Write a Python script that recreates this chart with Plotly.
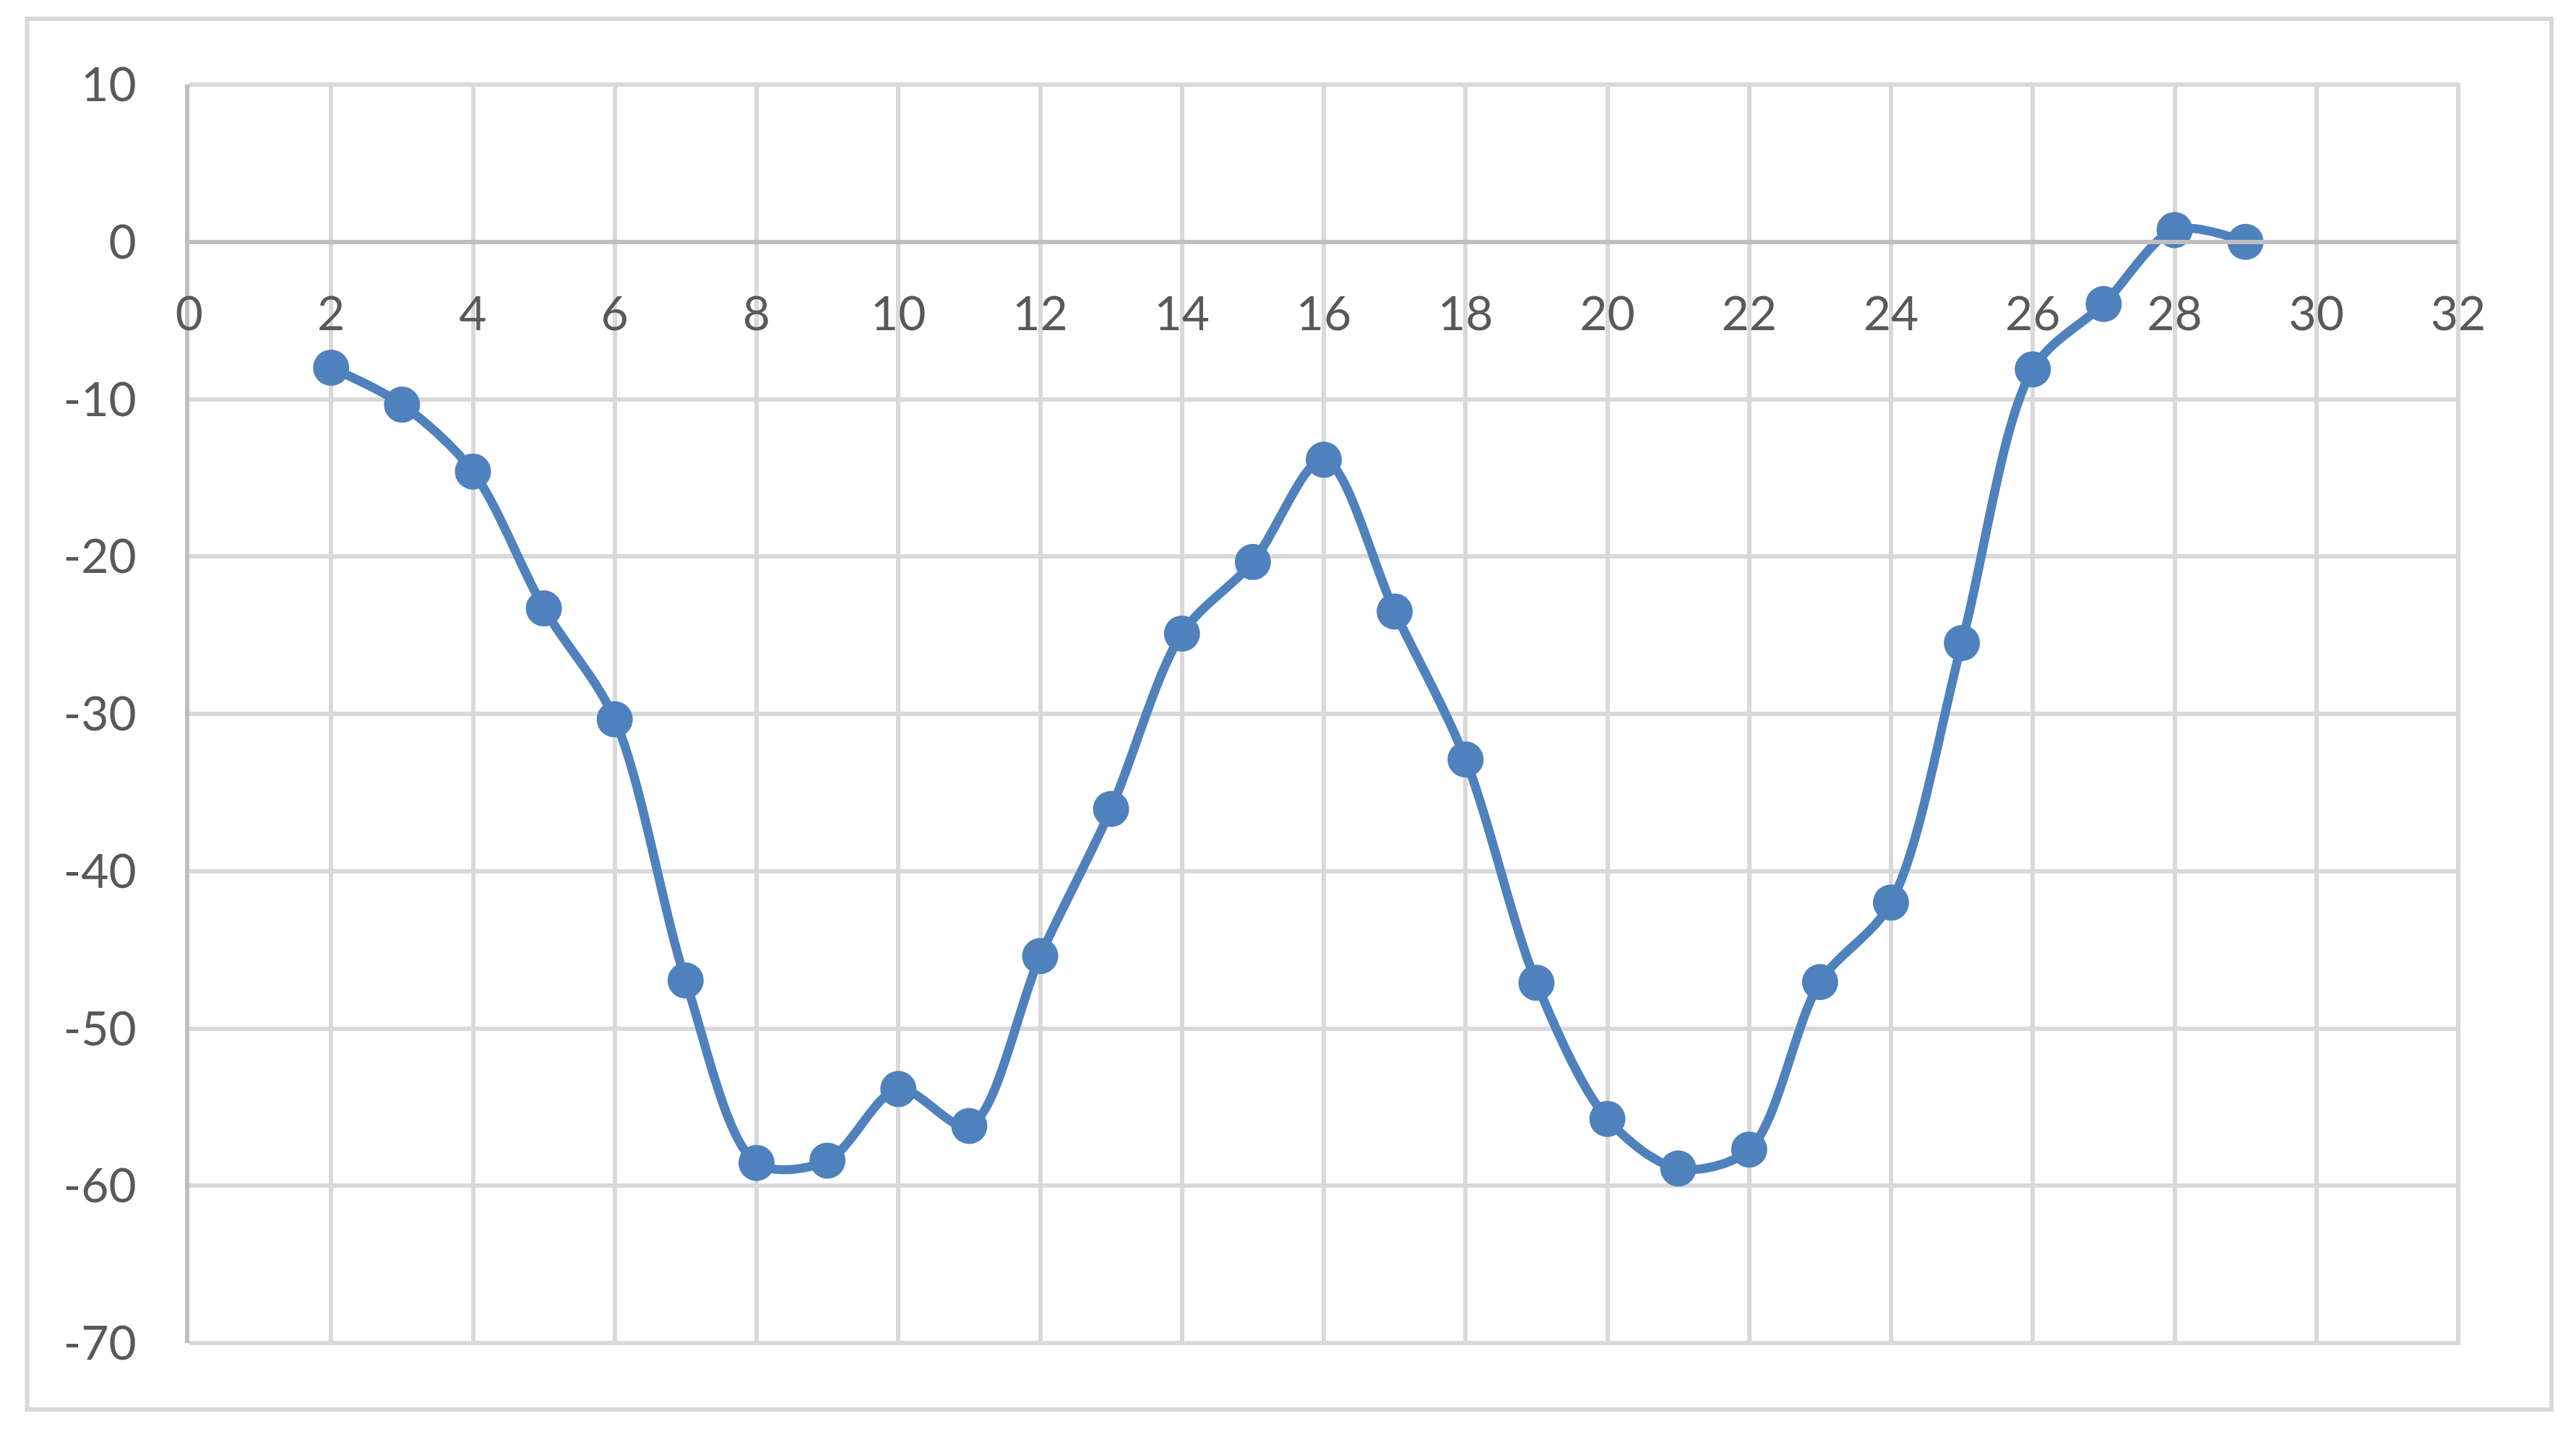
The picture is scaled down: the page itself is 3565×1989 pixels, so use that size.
import plotly.graph_objects as go

# ---- data ----
x_values = [2, 3, 4, 5, 6, 7, 8, 9, 10, 11, 12, 13, 14, 15, 16,
            17, 18, 19, 20, 21, 22, 23, 24, 25, 26, 27, 28, 29]
y_values = [-8.0, -10.35, -14.6, -23.3, -30.35, -46.95, -58.55, -58.4, -53.85, -56.2,
            -45.4, -36.05, -24.9, -20.35, -13.85, -23.5, -32.9, -47.1, -55.75, -58.9,
            -57.7, -47.05, -42.0, -25.5, -8.1, -3.95, 0.75, 0.0]

x_tick_values = [0, 2, 4, 6, 8, 10, 12, 14, 16, 18, 20, 22, 24, 26, 28, 30, 32]
x_tick_labels = ["0", "2", "4", "6", "8", "10", "12", "14", "16", "18", "20",
                 "22", "24", "26", "28", "30", "32"]
y_tick_values = [10, 0, -10, -20, -30, -40, -50, -60, -70]
y_tick_labels = ["10", "0", "-10", "-20", "-30", "-40", "-50", "-60", "-70"]

# ---- style ----
W, H = 3565, 1989
LINE_BLUE = "#4F81BD"
GRID = "#D9D9D9"
AXIS = "#BFBFBF"
TEXT = "#595959"
FONT = "Lato, 'Open Sans', sans-serif"

x_range = [0, 32]
y_range = [-70, 10]
zero_pos = (0 - y_range[0]) / (y_range[1] - y_range[0])

fig = go.Figure()
fig.add_trace(go.Scatter(
    x=x_values, y=y_values, mode="lines+markers",
    line=dict(color=LINE_BLUE, width=12.5, shape="spline", smoothing=0.9),
    marker=dict(color=LINE_BLUE, size=50, line=dict(width=0)),
    showlegend=False, hoverinfo="skip",
))

fig.update_layout(
    width=W, height=H,
    margin=dict(l=254, r=171, t=109, b=138, pad=0),
    paper_bgcolor="white", plot_bgcolor="white",
    font=dict(family=FONT, size=66, color=TEXT),
    xaxis=dict(
        range=x_range, tickmode="array", tickvals=x_tick_values, ticktext=x_tick_labels,
        showgrid=True, gridcolor=GRID, gridwidth=6,
        zeroline=False, showline=True, linecolor=AXIS, linewidth=6,
        anchor="free", position=zero_pos, ticks="", ticklabelstandoff=40,
        tickfont=dict(family=FONT, size=66, color=TEXT),
    ),
    yaxis=dict(
        range=y_range, tickmode="array", tickvals=y_tick_values, ticktext=y_tick_labels,
        showgrid=True, gridcolor=GRID, gridwidth=6,
        zeroline=False, showline=True, linecolor=AXIS, linewidth=6,
        ticks="", ticklabelstandoff=54,
        tickfont=dict(family=FONT, size=66, color=TEXT),
    ),
    shapes=[
        # outer chart border
        dict(type="rect", xref="paper", yref="paper",
             x0=-0.0715, x1=1.0411, y0=-0.0528, y1=1.0522,
             line=dict(color=GRID, width=6), fillcolor="rgba(0,0,0,0)", layer="below"),
        # plot-area top/right/bottom edges (gridlines at the range ends)
        dict(type="path", xref="paper", yref="paper",
             path="M 0 1 L 1 1 L 1 0 L 0 0",
             line=dict(color=GRID, width=6), layer="below"),
    ],
)

fig.write_html("out.html", config={"displayModeBar": False})
